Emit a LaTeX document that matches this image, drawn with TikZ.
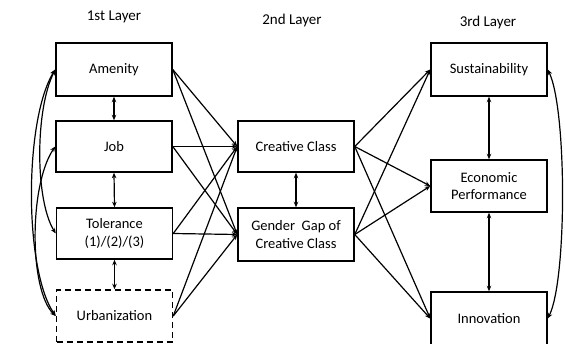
\documentclass[tikz,border=0pt]{standalone}
\usepackage{fontspec}
\setmainfont{Carlito}
\usetikzlibrary{arrows.meta}
\begin{document}
\begin{tikzpicture}[x=1pt,y=-1pt,
  box/.style={draw,line width=1.5pt,minimum width=116pt,align=center,inner sep=0pt,font=\fontsize{14.5}{17.5}\selectfont},
  lbl/.style={font=\fontsize{15}{18}\selectfont},
  conn/.style={line width=1.2pt,-{Stealth[length=5.5pt,width=4.5pt]}},
  bi/.style={line width=1.2pt,{Stealth[length=5.5pt,width=4.5pt]}-{Stealth[length=5.5pt,width=4.5pt]}}]
\useasboundingbox (0,0) rectangle (565,343);
\node[lbl] (l1) at (114,17) {1st Layer};
\node[lbl] (l2) at (292,20) {2nd Layer};
\node[lbl] (l3) at (488,22) {3rd Layer};
\node[box,minimum height=53pt] (am) at (114,69.5) {Amenity};
\node[box,minimum height=51pt] (job) at (114,146.5) {Job};
\node[box,minimum height=51pt] (tol) at (114.5,233.5) {Tolerance\\(1)/(2)/(3)};
\node[box,minimum height=52pt,dashed,dash pattern=on 6pt off 4pt] (urb) at (114.5,316) {Urbanization};
\node[box,minimum height=51pt] (cc) at (296,146.5) {Creative Class};
\node[box,minimum height=53pt] (gg) at (296,234.5) {Gender\ \ Gap of\\Creative Class};
\node[box,minimum height=53pt] (su) at (489,69.5) {Sustainability};
\node[box,minimum height=52pt] (ep) at (489,186) {Economic\\Performance};
\node[box,minimum height=53pt] (in) at (489,318.5) {Innovation};
% vertical
\draw[bi] (am.south) -- (job.north);
\draw[bi] (job.south) -- (tol.north);
\draw[bi] (tol.south) -- (urb.north);
\draw[bi] (cc.south) -- (gg.north);
\draw[bi] (su.south) -- (ep.north);
\draw[bi] (ep.south) -- (in.north);
% layer1 -> layer2
\foreach \s in {am,job,tol,urb}{
  \draw[conn] (\s.east) -- (cc.west);
  \draw[conn] (\s.east) -- (gg.west);
}
% layer2 -> layer3
\foreach \s in {cc,gg}{
  \foreach \t in {su,ep,in}{
    \draw[conn] (\s.east) -- (\t.west);
  }
}
% curves
\draw[bi] (am.west) .. controls (24,120) and (24,270) .. (urb.west);
\draw[bi] (am.west) .. controls (35,110) and (35,200) .. (tol.west);
\draw[bi] (job.west) .. controls (29,185) and (29,290) .. (urb.west);
\draw[bi] (su.east) .. controls (567,110) and (567,280) .. (in.east);
\end{tikzpicture}
\end{document}
